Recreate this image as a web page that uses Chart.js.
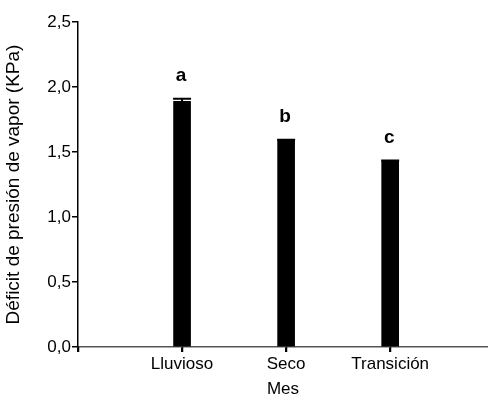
<!DOCTYPE html>
<html>
<head>
<meta charset="utf-8">
<script src="https://cdn.jsdelivr.net/npm/chart.js@4/dist/chart.umd.min.js"></script>
<style>
  html,body{margin:0;padding:0;background:#fff;}
  #wrap{width:488px;height:396px;}
</style>
</head>
<body>
<div id="wrap"><canvas id="c" width="488" height="396"></canvas></div>
<script>
  // ---- data
  const CATEGORIES = ['Lluvioso', 'Seco', 'Transición'];
  const VALUES = [1.89, 1.59, 1.43];
  const ERRORS = [0.02, 0.004, 0.004];
  const LETTERS = ['a', 'b', 'c'];
  const Y_TICKS = [0, 0.5, 1.0, 1.5, 2.0, 2.5];
  // bars sit at x = 1, 2, 3; the axis starts one slot before the first bar
  const X_MIN = 0, X_MAX = 3.94;

  const FONT = 'Liberation Sans, Arial, sans-serif';

  // error caps + significance letters, drawn from the scales
  const marksPlugin = {
    id: 'marks',
    afterDatasetsDraw(chart){
      const {ctx, scales:{x, y}} = chart;
      ctx.save();
      VALUES.forEach((v, i) => {
        const px = x.getPixelForValue(i + 1);
        const top = y.getPixelForValue(v + ERRORS[i]);
        const half = 9;
        ctx.strokeStyle = '#000';
        ctx.lineWidth = 2;
        ctx.beginPath();
        ctx.moveTo(px, y.getPixelForValue(v)); ctx.lineTo(px, top);
        ctx.moveTo(px - half, top); ctx.lineTo(px + half, top);
        ctx.stroke();
        ctx.fillStyle = '#000';
        ctx.font = 'bold 19px ' + FONT;
        ctx.textAlign = 'center';
        ctx.textBaseline = 'middle';
        ctx.fillText(LETTERS[i], px - 1, top - 23);
      });
      ctx.restore();
    },
    // category tick marks under the x axis, kept on top of everything
    afterDraw(chart){
      const {ctx, chartArea, scales:{x}} = chart;
      ctx.save();
      ctx.strokeStyle = '#000';
      ctx.lineWidth = 1.5;
      ctx.beginPath();
      x.ticks.forEach(t => {
        const px = Math.round(x.getPixelForValue(t.value)) + 0.5;
        ctx.moveTo(px, chartArea.bottom);
        ctx.lineTo(px, chartArea.bottom + 5);
      });
      ctx.stroke();
      ctx.restore();
    }
  };

  new Chart(document.getElementById('c'), {
    type: 'bar',
    data: {
      datasets: [{
        data: VALUES.map((v, i) => ({x: i + 1, y: v})),
        backgroundColor: '#000',
        borderWidth: 0,
        barThickness: 17
      }]
    },
    options: {
      responsive: false,
      animation: false,
      layout: { padding: { top: 22, right: 0, bottom: 0, left: 0 } },
      plugins: { legend: { display: false }, tooltip: { enabled: false } },
      scales: {
        x: {
          type: 'linear',
          min: X_MIN, max: X_MAX,
          offset: false,
          afterFit(s){ s.height = 49; },
          afterBuildTicks(s){ s.ticks = [0, 1, 2, 3].map(v => ({value: v})); },
          grid: { offset: false, drawOnChartArea: false, tickLength: 5, tickColor: '#000', lineWidth: 1.5 },
          border: { color: '#555', width: 1.5 },
          ticks: { color: '#000', padding: 2, maxRotation: 0, autoSkip: false,
                   font: { family: FONT, size: 17 },
                   callback: v => CATEGORIES[v - 1] || '' },
          title: { display: true, text: 'Mes', color: '#000',
                   font: { family: FONT, size: 17, lineHeight: 1 },
                   padding: { top: 0, bottom: -2 } }
        },
        y: {
          min: 0, max: 2.5,
          afterFit(s){ s.width = 78; },
          afterBuildTicks(s){ s.ticks = Y_TICKS.map(v => ({value: v})); },
          grid: { drawOnChartArea: false, tickLength: 6, tickColor: '#000', lineWidth: 1.5 },
          border: { color: '#000', width: 1.5 },
          ticks: { color: '#000', padding: 1,
                   font: { family: FONT, size: 17 },
                   callback: v => v.toFixed(1).replace('.', ',') },
          title: { display: true, text: 'Déficit de presión de vapor (KPa)', color: '#000',
                   font: { family: FONT, size: 19, lineHeight: 1 },
                   padding: { top: 4.5, bottom: 0 } }
        }
      }
    },
    plugins: [marksPlugin]
  });
</script>
</body>
</html>
